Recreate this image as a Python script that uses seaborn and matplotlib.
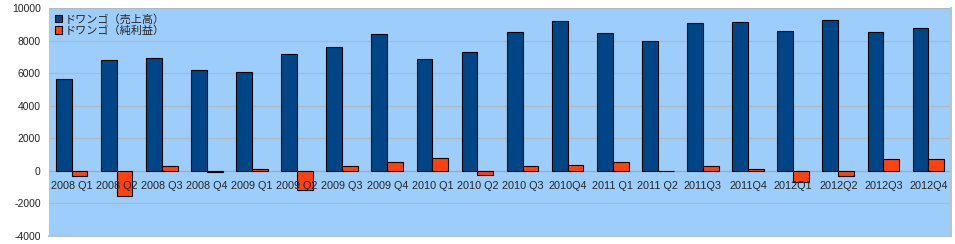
import matplotlib
matplotlib.use("Agg")
import matplotlib.pyplot as plt
import seaborn as sns
import pandas as pd
from matplotlib.patches import Patch

quarters = ["2008 Q1", "2008 Q2", "2008 Q3", "2008 Q4", "2009 Q1", "2009 Q2",
            "2009 Q3", "2009 Q4", "2010 Q1", "2010 Q2", "2010 Q3", "2010Q4",
            "2011 Q1", "2011 Q2", "2011Q3", "2011Q4", "2012Q1", "2012Q2", "2012Q3", "2012Q4"]
sales = [5630, 6800, 6920, 6200, 6070, 7180, 7590, 8400, 6870, 7300,
         8530, 9180, 8450, 7950, 9060, 9120, 8570, 9260, 8510, 8750]
net_income = [-330, -1550, 290, -50, 100, -1150, 290, 530, 800, -270,
              290, 350, 530, -20, 290, 100, -700, -330, 730, 730]
series_names = ["ドワンゴ（売上高）", "ドワンゴ（純利益）"]
colors = ["#004586", "#ff420e"]
yticks = [-4000, -2000, 0, 2000, 4000, 6000, 8000, 10000]

df = pd.DataFrame({
    "quarter": quarters * 2,
    "value": sales + net_income,
    "series": [series_names[0]] * len(quarters) + [series_names[1]] * len(quarters),
})

sns.set_style("white")
plt.rcParams["font.family"] = ["Noto Sans CJK JP", "DejaVu Sans"]

fig = plt.figure(figsize=(9.55, 2.44), dpi=100)
ax = fig.add_axes([49 / 955, 8 / 244, 902 / 955, 228 / 244])
ax.set_facecolor("#9dcdfa")

sns.barplot(data=df, x="quarter", y="value", hue="series", palette=colors,
            saturation=1, width=0.7, edgecolor="black", linewidth=0.8, ax=ax,
            legend=False, zorder=3)

ax.set_ylim(-4000, 10000)
ax.set_xlim(-0.5, len(quarters) - 0.5)
ax.set_yticks(yticks)
ax.set_yticklabels([str(v) for v in yticks], fontsize=7.5, family="Liberation Sans")
ax.yaxis.grid(True, color="#b0b8c0", linewidth=0.8, zorder=0)
ax.set_axisbelow(True)
ax.axhline(0, color="#a0a8b0", linewidth=0.8, zorder=1)
ax.set_xlabel("")
ax.set_ylabel("")
ax.set_xticks(range(len(quarters)))
ax.set_xticklabels([])
ax.tick_params(axis="x", length=0)
ax.tick_params(axis="y", length=0, pad=6)
for i, q in enumerate(quarters):
    ax.text(i, -900, q, ha="center", va="center", fontsize=7.8,
            family="Liberation Sans", zorder=4)

for s in ["top", "left"]:
    ax.spines[s].set_visible(False)
for s in ["right", "bottom"]:
    ax.spines[s].set_color("#b8c4cc")
    ax.spines[s].set_linewidth(1.5)

handles = [Patch(facecolor=c, edgecolor="black", linewidth=0.8) for c in colors]
ax.legend(handles, series_names, loc="upper left", frameon=False, fontsize=8,
          handlelength=0.7, handleheight=0.7, handletextpad=0.2,
          borderaxespad=0.3, labelspacing=0.1, borderpad=0.2)

fig.savefig("out.png", dpi=100, facecolor="white")
